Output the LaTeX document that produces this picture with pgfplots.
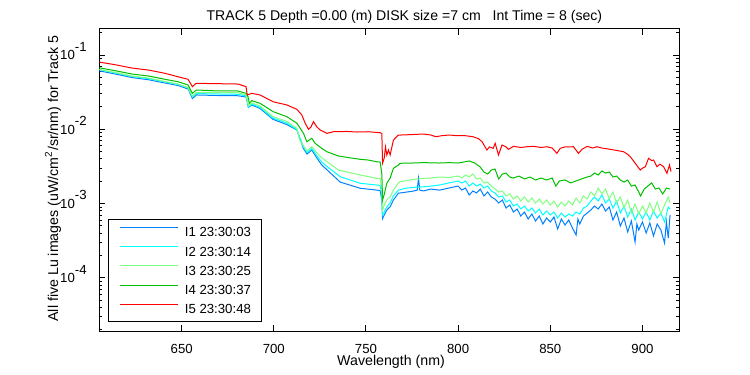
\documentclass[border=0pt]{standalone}
\usepackage{fontspec}
\setmainfont{Liberation Sans}
\usepackage{pgfplots}
\pgfplotsset{compat=1.18}
\definecolor{cI}{RGB}{0,128,255}
\definecolor{cII}{RGB}{0,255,255}
\definecolor{cIII}{RGB}{128,255,128}
\definecolor{cIV}{RGB}{0,192,0}
\definecolor{cV}{RGB}{255,0,0}
\newcommand{\sfs}{\fontsize{6.6}{7.9}\selectfont}
\newcommand{\lfs}{\fontsize{7.1}{8.5}\selectfont}
\newcommand{\tfs}{\fontsize{7.05}{8.5}\selectfont}
\newcommand{\ex}[1]{10\raisebox{4.2pt}{#1}}
\begin{document}
\begin{tikzpicture}
\begin{axis}[
  scale only axis, width=290pt, height=151pt,
  xmin=605.3, xmax=920, ymode=log, log basis y=10, ymin=1.93e-5, ymax=0.224,
  xtick={650,700,750,800,850,900},
  xticklabels={650,700,750,800,850,900},
  ytick={1e-4,1e-3,1e-2,1e-1},
  yticklabels={\ex{-4},\ex{-3},\ex{-2},\ex{-1}},
  minor ytick={2e-5,3e-5,4e-5,5e-5,6e-5,7e-5,8e-5,9e-5,2e-4,3e-4,4e-4,5e-4,6e-4,7e-4,8e-4,9e-4,2e-3,3e-3,4e-3,5e-3,6e-3,7e-3,8e-3,9e-3,2e-2,3e-2,4e-2,5e-2,6e-2,7e-2,8e-2,9e-2,2e-1},
  tick align=inside, major tick length=3pt, minor tick length=1.6pt,
  axis line style={line width=0.5pt},
  every tick/.style={black, line width=0.5pt},
  tick label style={font=\sfs},
  xticklabel style={anchor=base, yshift=-11pt},
  yticklabel style={anchor=base east, xshift=-2.8pt, yshift=-2.35pt},
  title={TRACK 5 Depth =0.00 (m) DISK size =7 cm~~ Int Time = 8 (sec)},
  every axis title/.style={at={(0.526,1)}, anchor=base, yshift=4.25pt, font=\tfs, inner sep=0pt},
  xlabel={Wavelength (nm)},
  every axis x label/.style={at={(0.503,0)}, anchor=base, yshift=-17pt, font=\lfs, inner sep=0pt},
  ylabel={All five Lu images (uW/cm\textsuperscript{2}/sr/nm) for Track 5},
  every axis y label/.style={at={(-0.0798,0.505)}, rotate=90, anchor=center, font=\lfs, inner sep=0pt},
  legend style={at={(0.0155,0.37)}, anchor=north west, draw=black, line width=0.5pt,
    font=\sfs, inner xsep=5.35pt, inner ysep=2.9pt, row sep=3.15pt, column sep=3.3pt,
    nodes={inner sep=0pt, text height=5.6pt, text depth=0.9pt},
    cells={anchor=west}},
  legend image code/.code={\draw[#1, line width=0.5pt] (0pt,2.35pt) -- (28.9pt,2.35pt);},
]
\addplot[cI, line width=0.5pt] table {
605 0.0615
614 0.0555
623 0.0498
632 0.0465
641 0.0420
648 0.0389
653.5 0.0349
655.8 0.0260
658 0.0290
670 0.0285
680.5 0.0283
685 0.0272
686.2 0.0197
688 0.0213
692.5 0.0191
699.6 0.0136
707 0.0116
712.5 0.0098
716 0.00555
718 0.00465
720.6 0.00526
723 0.00424
726 0.00331
729 0.00283
736 0.00195
746.8 0.00161
755.9 0.00152
757.7 0.00149
758.6 0.00112
759.0 0.00063
759.9 0.000703
761.3 0.00082
763.1 0.00091
764.9 0.00112
767.6 0.00138
772 0.00143
776 0.00148
777.8 0.00152
778.5 0.00219
779.2 0.00152
781.2 0.00148
785 0.00157
790 0.00152
795 0.00162
800 0.001722
802 0.001525
804 0.001623
806 0.001306
808 0.001478
810 0.00139
812 0.001573
814 0.001267
816 0.001433
818 0.001228
820 0.001154
822 0.001019
824 0.001118
826 0.000872
828 0.000958
830 0.000771
832 0.000846
834 0.000681
836 0.000771
838 0.000621
840 0.000725
842 0.000583
844 0.000681
846 0.000532
848 0.00064
850 0.000566
852 0.00066
854 0.000455
856 0.000621
858 0.000515
860 0.000602
862 0.00047
864 0.000378
865 0.000621
866 0.000532
868 0.000681
870 0.000747
872 0.00082
874 0.000928
876 0.000846
878 0.000988
880 0.000795
882 0.0009
884 0.000602
886 0.000771
888 0.0005
890 0.00064
892 0.000415
894 0.000583
896 0.000304
897 0.000532
898 0.000442
900 0.000566
902 0.000402
904 0.000549
906 0.000367
908 0.000532
910 0.000442
912 0.000295
913 0.000566
914 0.000345
915 0.000703
};
\addlegendentry{I1 23:30:03}
\addplot[cII, line width=0.5pt] table {
605 0.0638
614 0.0573
623 0.0514
632 0.0480
641 0.0433
648 0.0401
653.5 0.0360
655.8 0.0272
658 0.0303
670 0.0299
680.5 0.0296
685 0.0281
686.2 0.0200
688 0.0219
692.5 0.0197
699.6 0.0141
707 0.0122
712.5 0.0099
716 0.00583
718 0.00488
720.6 0.00551
723 0.00451
726 0.00363
729 0.00314
736 0.00230
746.8 0.00188
755.9 0.00178
757.7 0.00176
758.6 0.00127
759.0 0.000703
759.9 0.000771
761.3 0.0009
763.1 0.00102
764.9 0.00127
767.6 0.00152
772 0.00162
778 0.00167
781.2 0.00168
790 0.00178
795 0.00190
800 0.002015
802 0.001895
804 0.002015
806 0.001726
808 0.001895
810 0.001726
812 0.001835
814 0.001623
816 0.001726
818 0.001478
820 0.00139
822 0.001228
824 0.001267
826 0.001052
828 0.001118
830 0.000928
832 0.000988
834 0.000846
836 0.000928
838 0.000795
840 0.000872
842 0.000747
844 0.000846
846 0.000703
848 0.000795
850 0.000703
852 0.000771
854 0.00064
856 0.000747
858 0.00066
860 0.000725
862 0.000681
864 0.000771
866 0.000725
868 0.000872
870 0.000928
872 0.001084
874 0.001228
876 0.001084
878 0.001306
880 0.001019
882 0.001154
884 0.000872
886 0.001084
888 0.000747
890 0.000928
892 0.00066
894 0.000846
896 0.000602
898 0.000771
900 0.000621
902 0.000771
904 0.000602
906 0.000795
908 0.00064
910 0.000747
912 0.000566
914 0.0009
915 0.000846
};
\addlegendentry{I2 23:30:14}
\addplot[cIII, line width=0.5pt] table {
605 0.0642
614 0.0582
623 0.0522
632 0.0490
641 0.0440
648 0.0407
653.5 0.0365
655.8 0.0281
658 0.0313
670 0.0313
680.5 0.0311
685 0.0290
686.2 0.0206
688 0.0226
692.5 0.0206
699.6 0.0148
707 0.0128
712.5 0.0103
714 0.00718
718 0.00510
720.6 0.00583
723 0.00495
726 0.00411
729 0.00366
735 0.00283
743 0.00256
746.8 0.00243
755.9 0.00219
757.7 0.00218
758.6 0.00152
759.0 0.00082
759.9 0.000958
761.3 0.00112
763.1 0.00124
764.9 0.00152
767.6 0.00190
768.5 0.00197
775 0.00211
781.2 0.00219
785 0.00221
790 0.00228
795 0.00225
800 0.002354
802 0.002212
804 0.002428
806 0.002282
808 0.002504
810 0.002145
812 0.002212
814 0.001895
816 0.001954
818 0.001726
820 0.001573
822 0.001433
824 0.001478
826 0.001267
828 0.001348
830 0.001154
832 0.001267
834 0.001084
836 0.001228
838 0.001052
840 0.00119
842 0.001019
844 0.001154
846 0.000988
848 0.001118
850 0.000958
852 0.001084
854 0.0009
856 0.001052
858 0.000928
860 0.001084
862 0.000958
864 0.00119
866 0.001019
868 0.001267
870 0.001154
872 0.001433
874 0.001267
876 0.001623
878 0.001348
880 0.001573
882 0.001154
884 0.001433
886 0.001019
888 0.001228
890 0.000872
892 0.001118
894 0.000747
896 0.000988
898 0.000725
900 0.000928
902 0.000747
904 0.001019
906 0.000771
908 0.001052
910 0.000725
912 0.000958
914 0.001228
915 0.001019
};
\addlegendentry{I3 23:30:25}
\addplot[cIV, line width=0.5pt] table {
605 0.0675
614 0.0615
623 0.0555
632 0.0522
641 0.0471
648 0.0437
653.5 0.0395
655.8 0.0305
658 0.0338
668 0.0330
680.5 0.0328
685 0.0305
686 0.0275
686.7 0.0224
688 0.0243
692.5 0.0224
699.6 0.0173
707 0.0148
712.5 0.0121
716.1 0.00883
717.9 0.00681
720.6 0.00757
722.4 0.00648
726 0.00555
728.8 0.00499
735.1 0.00437
743.2 0.00407
746.8 0.00395
751.3 0.00386
755.9 0.00366
757.7 0.00363
758.6 0.0025
759.0 0.00112
759.9 0.00133
761.3 0.00188
763.1 0.00221
764.9 0.00299
767.6 0.00331
768.5 0.00349
775 0.00352
781.2 0.00356
790 0.00352
795 0.00356
800 0.00352
803 0.00363
806 0.00375
809 0.00352
812 0.00311
814 0.00266
816 0.00250
818 0.00283
820 0.00292
822 0.00215
824 0.00250
826 0.00258
828 0.00228
830 0.00221
833 0.00235
836 0.00215
839 0.00228
842 0.00208
845 0.00221
848 0.00208
851 0.00221
853 0.00172
855 0.00202
858 0.00208
861 0.00190
864 0.00202
867 0.00215
870 0.00228
872 0.00235
874 0.00258
876 0.00243
878 0.00275
880 0.00258
882 0.00266
884 0.00228
886 0.00235
888 0.00208
890 0.00195
892 0.00208
894 0.00172
896 0.00178
898 0.00143
899 0.00127
901 0.00157
903 0.00173
905 0.00190
907 0.00157
909 0.00162
911 0.00135
913 0.00162
915 0.00157
};
\addlegendentry{I4 23:30:37}
\addplot[cV, line width=0.5pt] table {
605 0.0805
614 0.0740
623 0.0668
632 0.0628
641 0.0567
648 0.0510
653.5 0.0471
655.8 0.0375
657.8 0.0416
668 0.0412
680.6 0.0407
684.9 0.0375
685.6 0.0290
688 0.0305
692.5 0.0290
699.6 0.0235
707 0.0213
712.5 0.0186
715.2 0.0156
717 0.0121
718.8 0.0100
720.2 0.0108
721.5 0.0127
723.3 0.0108
725.1 0.0098
728.8 0.00883
732.3 0.00928
739.6 0.00936
745 0.00920
751.3 0.00928
757.7 0.00900
758.6 0.00880
759.0 0.00352
759.9 0.00411
760.6 0.0058
761.3 0.0045
762.2 0.00526
763.1 0.00451
764.9 0.00718
767.6 0.00838
769 0.00838
775 0.00850
781 0.00865
785 0.00840
788 0.00795
791 0.0082
795 0.00838
800 0.00820
804 0.0082
808 0.00795
811 0.0075
813 0.0068
815.6 0.00526
817 0.0058
819 0.00555
820.1 0.00648
821.9 0.00451
823.8 0.00615
826 0.0058
827.3 0.00538
830 0.0059
834 0.0057
837.3 0.00583
841 0.0059
845 0.0057
848.2 0.00583
851 0.0056
853.6 0.00475
855.4 0.00555
858 0.0058
862.6 0.00583
865.3 0.00475
867.2 0.00538
870 0.0059
873 0.0056
875.3 0.00583
878 0.0056
882.5 0.00538
886 0.0052
889.8 0.00499
892 0.0046
893.4 0.00428
896.1 0.00349
898.8 0.00283
900 0.0030
901.6 0.00314
903.3 0.00407
905 0.0038
906.1 0.00386
907.9 0.00314
909.5 0.0034
911.5 0.00314
913.3 0.00256
914.7 0.00331
915.5 0.00269
};
\addlegendentry{I5 23:30:48}
\end{axis}
\pgfresetboundingbox
\path[use as bounding box] ([xshift=-49.65pt,yshift=-22pt]current axis.south west) rectangle ([xshift=35.35pt,yshift=14.5pt]current axis.north east);
\end{tikzpicture}
\end{document}
